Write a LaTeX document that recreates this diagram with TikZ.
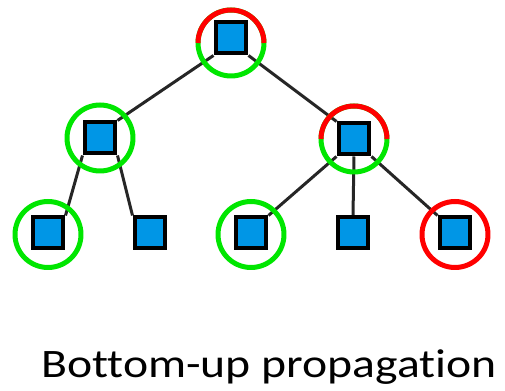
\documentclass[tikz,border=0pt]{standalone}
\usepackage{fontspec}
\setmainfont[Ligatures=NoCommon]{Carlito}
\usepackage{tikz}
\usepackage{xcolor}
\definecolor{nodeblue}{HTML}{0096E6}
\definecolor{okgreen}{HTML}{00E600}
\definecolor{badred}{HTML}{FF0000}
\pgfdeclarelayer{background}
\pgfsetlayers{background,main}

\begin{document}
\begin{tikzpicture}[x=0.02cm,
        y=-0.02cm,
        vertex/.style={
        draw=black,
        fill=nodeblue,
        rectangle,
        line width=0.08cm,
        minimum size=0.62cm,
        inner sep=0pt},
        edge/.style={draw=black!85, line width=0.06cm},
        ring/.style={line width=0.1cm}]

        \useasboundingbox (0,0) rectangle (505,391);

        % the tree
        \node[vertex] (root) at (231,38)  {};
        \node[vertex] (L)    at (100,138) {};
        \node[vertex] (R)    at (354,139) {};
        \node[vertex] (LL)   at (48,233)  {};
        \node[vertex] (LR)   at (150,233) {};
        \node[vertex] (RL)   at (251,233) {};
        \node[vertex] (RM)   at (353,233) {};
        \node[vertex] (RR)   at (455,233) {};

        \begin{pgfonlayer}{background}
        \path (root.south west) edge [edge] (L.north east);
        \path (root.south east) edge [edge] (R.north west);
        \path (L.south west) edge [edge] (LL.north east);
        \path (L.south east) edge [edge] (LR.north west);
        \path (R.south west) edge [edge] (RL.north east);
        \path (R.south) edge [edge] (RM.north);
        \path (R.south east) edge [edge] (RR.north west);
        \end{pgfonlayer}

        % rings: green = ok, red = changed, half/half = mixed
        \coordinate (rootring) at (231,43);
        \draw[ring, okgreen] (rootring) circle[radius=0.66cm];
        \draw[ring, badred] (rootring) ++(0.66cm,0) arc[start angle=0, end angle=180, radius=0.66cm];
        \draw[ring, okgreen] (L) circle[radius=0.66cm];
        \draw[ring, okgreen] (R) circle[radius=0.66cm];
        \draw[ring, badred] (R) ++(0.66cm,0) arc[start angle=0, end angle=180, radius=0.66cm];
        \draw[ring, okgreen] ([yshift=-0.03cm]LL.center) circle[radius=0.66cm];
        \draw[ring, okgreen] ([yshift=-0.03cm]RL.center) circle[radius=0.66cm];
        \draw[ring, badred] ([yshift=-0.03cm]RR.center) circle[radius=0.66cm];

        \node[anchor=base, xscale=1.18, transform shape, font=\fontsize{23pt}{26pt}\selectfont] (caption) at (269,378) {Bottom-up propagation};
\end{tikzpicture}
\end{document}
